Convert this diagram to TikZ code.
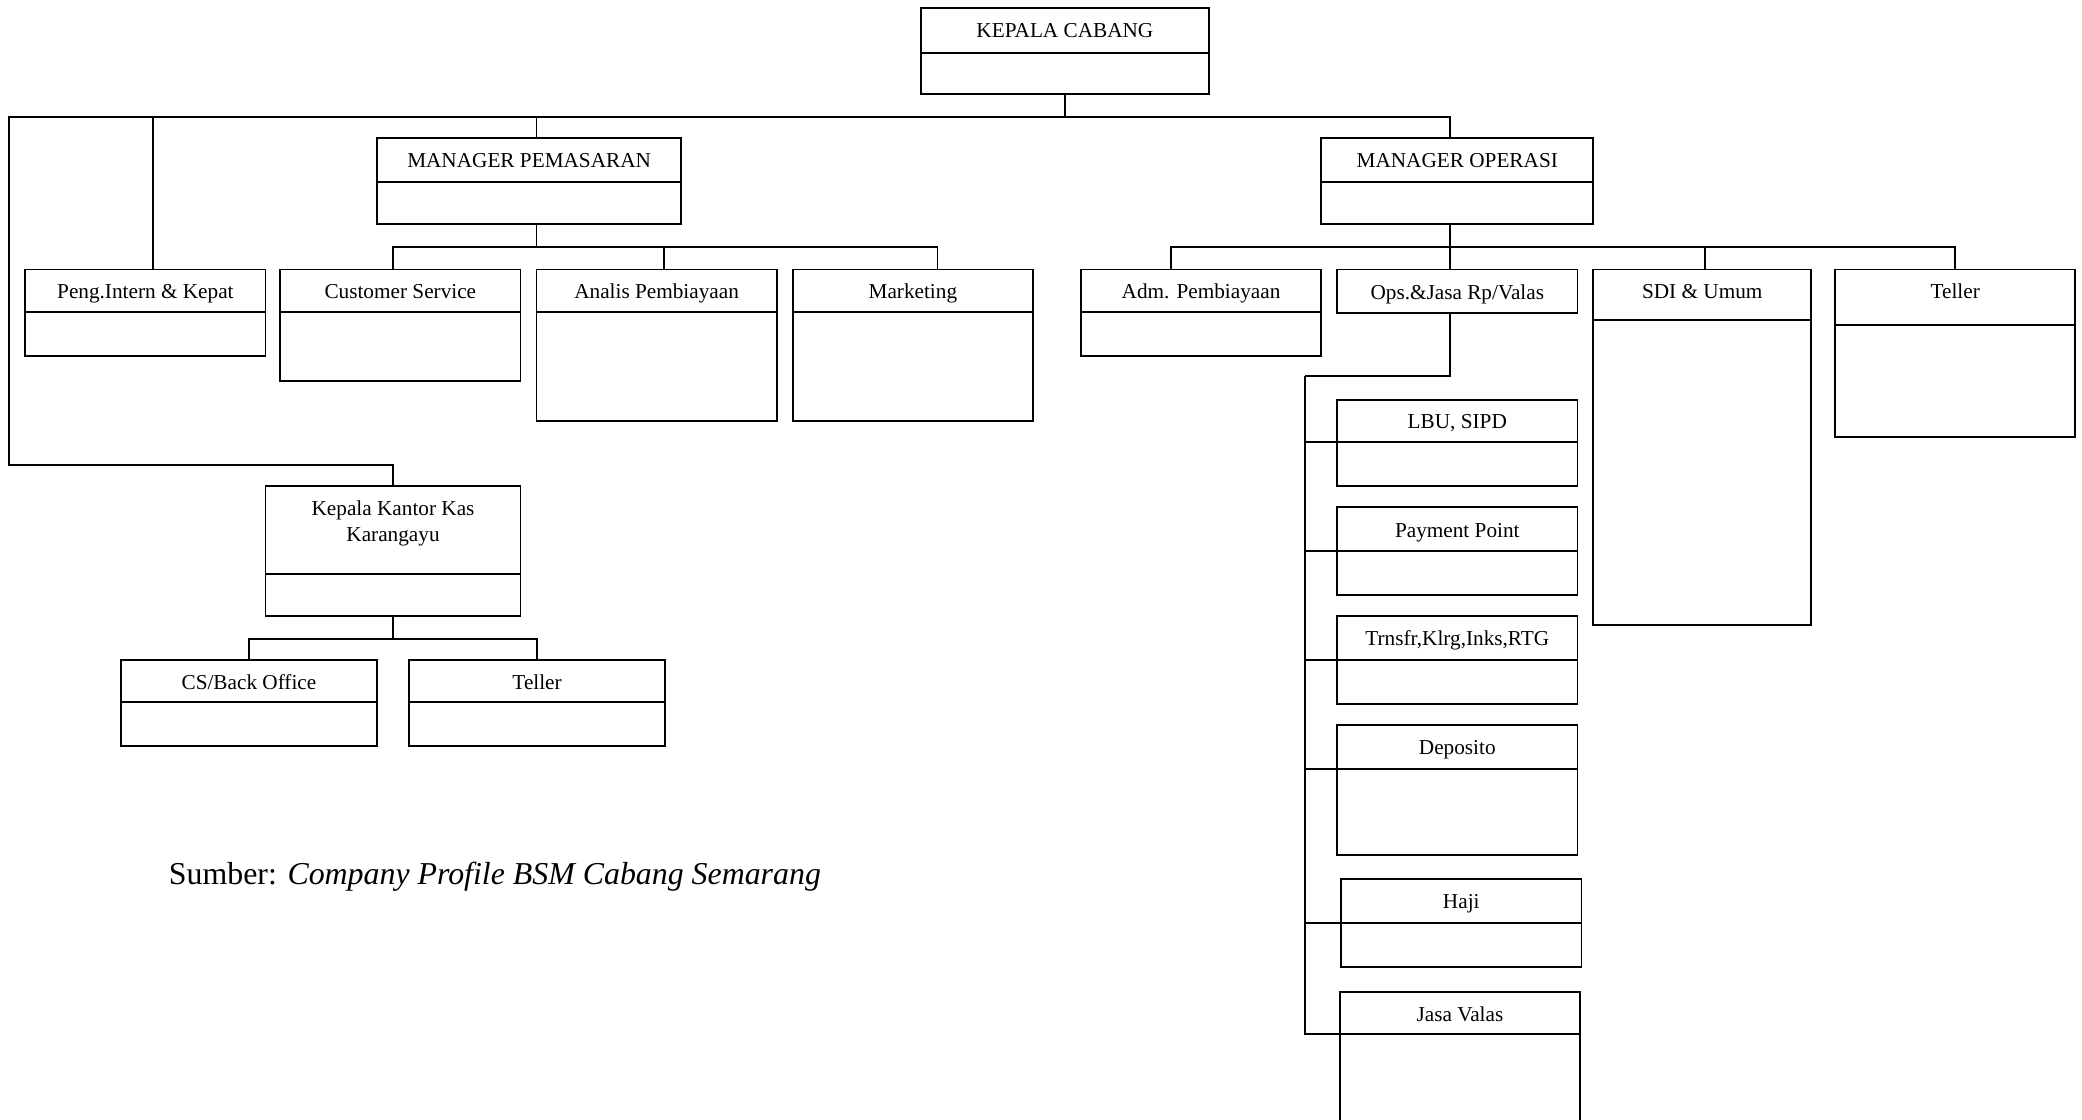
\documentclass[tikz,border=0pt]{standalone}
\usepackage{fontspec}
\setmainfont{Liberation Serif}
\usetikzlibrary{positioning}
\tikzset{
	head/.style={draw, line width=1.4pt, outer sep=0pt, inner sep=0pt, minimum width=181pt, minimum height=32pt, text height=12pt, text depth=0pt, font=\fontsize{16}{19}\selectfont},
	body/.style={draw, line width=1.4pt, outer sep=0pt, inner sep=0pt, minimum width=181pt, minimum height=33pt},
	link/.style={line width=1.4pt}
}
\begin{document}
\begin{tikzpicture}[x=1pt,y=-1pt]
		\clip (0,0) rectangle (1568,843);										% Bingkai
		
		% Pimpinan
		\node[head, minimum width=217pt, minimum height=34pt, text depth=2pt] (kc) at (802,23) {KEPALA CABANG};
		\node[body, minimum width=217pt, minimum height=31pt, below=0pt of kc] (kcb) {};
		\node[head, minimum width=229pt, minimum height=33pt] (mp) at (398.5,120.5) {MANAGER PEMASARAN};
		\node[body, minimum width=229pt, minimum height=32pt, below=0pt of mp] (mpb) {};
		\node[head, minimum width=205pt, minimum height=33pt] (mo) at (1097.5,120.5) {MANAGER OPERASI};
		\node[body, minimum width=205pt, minimum height=32pt, below=0pt of mo] (mob) {};
		
		% Bagian pemasaran
		\node[head] (pi) at (109.5,219) {Peng.Intern \& Kepat};
		\node[body, below=0pt of pi] (pib) {};
		\node[head] (cs) at (301.5,219) {Customer Service};
		\node[body, minimum height=52pt, below=0pt of cs] (csb) {};
		\node[head] (ap) at (494.5,219) {Analis Pembiayaan};
		\node[body, minimum height=82pt, below=0pt of ap] (apb) {};
		\node[head] (mkt) at (687.5,219) {Marketing};
		\node[body, minimum height=82pt, below=0pt of mkt] (mktb) {};
		
		% Bagian operasi
		\node[head] (adm) at (904.5,219) {Adm. Pembiayaan};
		\node[body, below=0pt of adm] (admb) {};
		\node[head, minimum height=33pt] (ops) at (1097.5,219.5) {Ops.\&Jasa Rp/Valas};
		\node[head, minimum width=164pt, minimum height=38pt, text depth=6pt] (sdi) at (1282,222) {SDI \& Umum};
		\node[body, minimum width=164pt, minimum height=230pt, below=0pt of sdi] (sdib) {};
		\node[head, minimum height=42pt, text depth=11pt] (tlr) at (1472.5,224) {Teller};
		\node[body, minimum height=84pt, below=0pt of tlr] (tlrb) {};
		
		% Unit di bawah Ops.&Jasa
		\node[head] (lbu) at (1097.5,317) {LBU, SIPD};
		\node[body, below=0pt of lbu] (lbub) {};
		\node[head, minimum height=33pt] (pp) at (1097.5,398.5) {Payment Point};
		\node[body, below=0pt of pp] (ppb) {};
		\node[head, minimum height=33pt] (trn) at (1097.5,480.5) {Trnsfr,Klrg,Inks,RTG};
		\node[body, below=0pt of trn] (trnb) {};
		\node[head, minimum height=33pt] (dep) at (1097.5,562.5) {Deposito};
		\node[body, minimum height=65pt, below=0pt of dep] (depb) {};
		\node[head, minimum height=33pt] (haji) at (1100.5,678.5) {Haji};
		\node[body, below=0pt of haji] (hajib) {};
		\node[head] (jv) at (1099.5,763) {Jasa Valas};
		\node[body, minimum height=75pt, below=0pt of jv] (jvb) {};
		
		% Kantor kas
		\node[head, minimum width=192pt, minimum height=66pt, text depth=33pt] (kkk) at (296,399) {\begin{tabular}[t]{@{}c@{}}Kepala Kantor Kas\\Karangayu\end{tabular}};
		\node[body, minimum width=192pt, minimum height=32pt, below=0pt of kkk] (kkkb) {};
		\node[head, minimum width=193pt] (csbo) at (187.5,513) {CS/Back Office};
		\node[body, minimum width=193pt, below=0pt of csbo] (csbob) {};
		\node[head, minimum width=193pt] (tl2) at (404.5,513) {Teller};
		\node[body, minimum width=193pt, below=0pt of tl2] (tl2b) {};
		
		% Titik belok
		\coordinate (lft) at (7,350);
		\coordinate (rail) at (983,283);
		
		% Garis
		\draw[link] (kcb.south) -- ++(0,17) -| ([xshift=-5.5pt]mo.north);
		\draw[link] (kcb.south) -- ++(0,17) -| ([xshift=5.5pt]mp.north);
		\draw[link] (kcb.south) -- ++(0,17) -| ([xshift=5.5pt]pi.north);
		\draw[link] (kcb.south) -- ++(0,17) -| (lft) -| (kkk.north);
		
		\draw[link] ([xshift=5.5pt]mpb.south) -- ++(0,17) -| ([xshift=-5.5pt]cs.north);
		\draw[link] ([xshift=5.5pt]mpb.south) -- ++(0,17) -| ([xshift=5.5pt]ap.north);
		\draw[link] ([xshift=5.5pt]mpb.south) -- ++(0,17) -| ([xshift=18.5pt]mkt.north);
		
		\draw[link] ([xshift=-5.5pt]mob.south) -- ++(0,17) -| ([xshift=-22.5pt]adm.north);
		\draw[link] ([xshift=-5.5pt]mob.south) -- ++(0,17) -| ([xshift=-5.5pt]ops.north);
		\draw[link] ([xshift=-5.5pt]mob.south) -- ++(0,17) -| ([xshift=2pt]sdi.north);
		\draw[link] ([xshift=-5.5pt]mob.south) -- ++(0,17) -| (tlr.north);
		
		\draw[link] ([xshift=-5.5pt]ops.south) |- (rail);
		\foreach \u in {lbub,ppb,trnb,depb,hajib,jvb}
			\draw[link] (rail) |- (\u.north west);
		
		\draw[link] (kkkb.south) -- ++(0,17) -| (csbo.north);
		\draw[link] (kkkb.south) -- ++(0,17) -| (tl2.north);
		
		% Sumber
		\node[anchor=base west, inner sep=0pt, font=\fontsize{24}{29}\selectfont] (src) at (127,666) {Sumber: \textit{Company Profile BSM Cabang Semarang}};
	\end{tikzpicture}
\end{document}
